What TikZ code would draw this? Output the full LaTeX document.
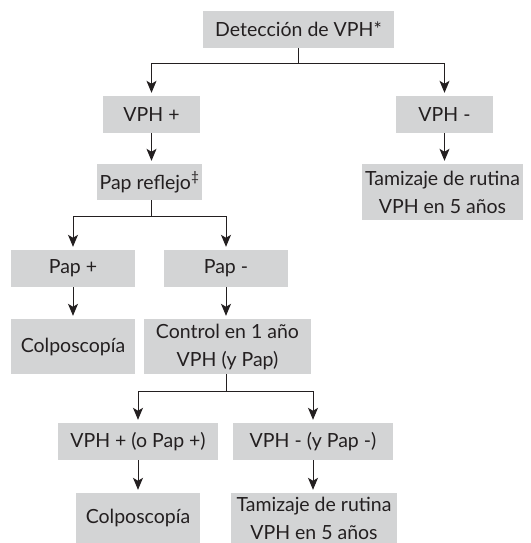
\documentclass[tikz,border=0pt]{standalone}
\usepackage{fontspec}
\setmainfont{Lato}
\usetikzlibrary{arrows.meta}
\definecolor{gris}{HTML}{D3D4D5}
\definecolor{tinta}{HTML}{231F20}
\tikzset{
	caja/.style={fill=gris, text=tinta, align=center, inner sep=0pt, minimum height=37pt,
		font=\fontsize{19.5}{28}\selectfont},
	flecha/.style={draw=tinta, line width=1pt, -{Stealth[length=12pt, width=10pt, inset=3pt]}, shorten >=3pt},
	linea/.style={draw=tinta, line width=1pt}
}
\begin{document}
	\begin{tikzpicture}[x=1pt, y=-1pt]
		\useasboundingbox (0, 0) rectangle (530, 543);
		\node[caja, minimum width=191pt] (det) at (298.5, 29.5) {Detección de VPH*};
		\node[caja, minimum width=97pt] (vphpos) at (151.5, 114.5) {VPH +};
		\node[caja, minimum width=97pt] (vphneg) at (444.5, 114.5) {VPH -};
		\node[caja, minimum width=105pt, minimum height=36pt] (papref) at (149.5, 182) {Pap reflejo\textsuperscript{‡}};
		\node[caja, minimum width=161pt, minimum height=56pt] (tamiz) at (442.5, 192) {Tamizaje de rutina\\VPH en 5 años};
		\node[caja, minimum width=124pt] (pappos) at (73, 268.5) {Pap +};
		\node[caja, minimum width=124pt] (papneg) at (226, 268.5) {Pap -};
		\node[caja, minimum width=124pt, minimum height=55pt] (colpo) at (73, 346.5) {Colposcopía};
		\node[caja, minimum width=167pt, minimum height=55pt] (control) at (227.5, 346.5) {Control en 1 año\\VPH (y Pap)};
		\node[caja, minimum width=160pt] (vphpap) at (138, 441.5) {VPH + (o Pap +)};
		\node[caja, minimum width=160pt] (vphnopap) at (313, 441.5) {VPH - (y Pap -)};
		\node[caja, minimum width=124pt, minimum height=50pt] (colpob) at (138, 518) {Colposcopía};
		\node[caja, minimum width=166pt, minimum height=50pt] (tamizb) at (314, 518) {Tamizaje de rutina\\VPH en 5 años};

		\draw[linea] (det.south) -- ++(0, 15) coordinate (r1);
		\draw[flecha] (r1) -| (vphpos.north);
		\draw[flecha] (r1) -| (vphneg.north);
		\draw[flecha] (vphpos.south) -- (vphpos.south |- papref.north);
		\draw[flecha] (vphneg.south) -- (vphneg.south |- tamiz.north);
		\draw[linea] (vphpos.south |- papref.south) -- ++(0, 16) coordinate (r2);
		\draw[flecha] (r2) -| (pappos.north);
		\draw[flecha] (r2) -| (papneg.north);
		\draw[flecha] (pappos.south) -- (colpo.north);
		\draw[flecha] (papneg.south) -- (papneg.south |- control.north);
		\draw[linea] (papneg.south |- control.south) -- ++(0, 17) coordinate (r3);
		\draw[flecha] (r3) -| (vphpap.north);
		\draw[flecha] (r3) -| (vphnopap.north);
		\draw[flecha] (vphpap.south) -- (colpob.north);
		\draw[flecha] (vphnopap.south) -- (vphnopap.south |- tamizb.north);
	\end{tikzpicture}
\end{document}
